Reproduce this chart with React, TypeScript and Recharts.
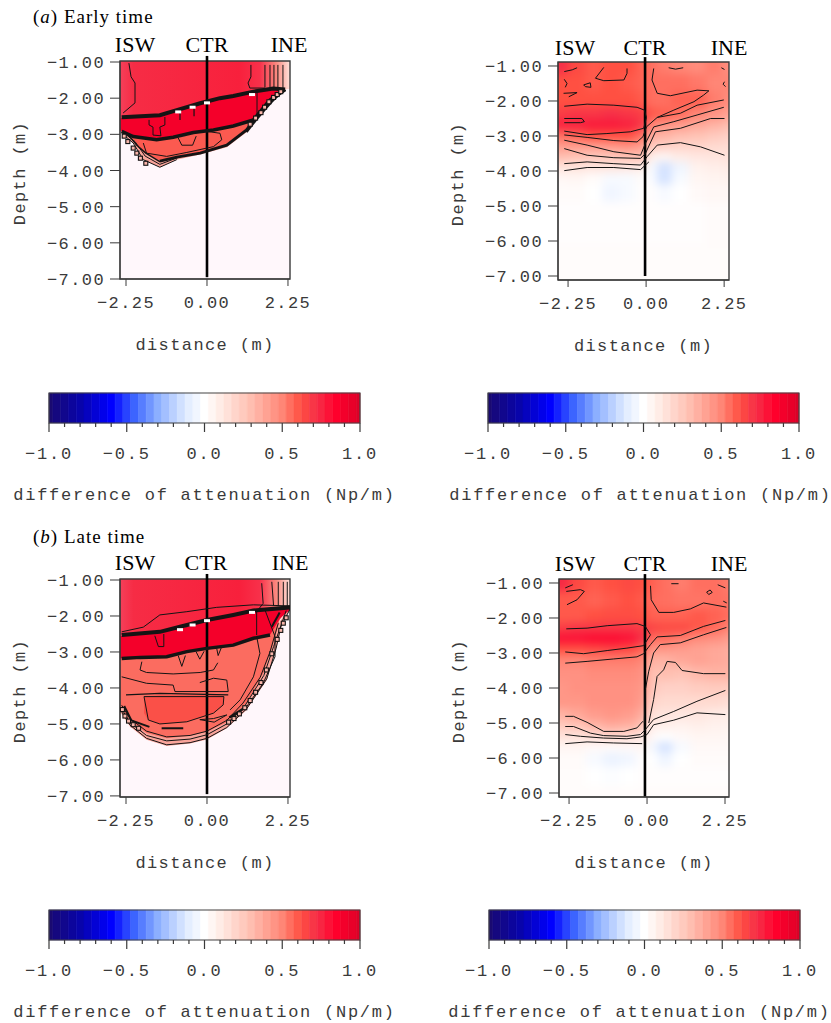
import React from 'react';
import { ComposedChart, Area, Scatter, XAxis, YAxis, ReferenceArea, ReferenceLine } from 'recharts';

type Pair = [number, number];
type Triple = [number, number, number];

const depthTicks = [-1, -2, -3, -4, -5, -6, -7];
const distanceTicks = [-2.25, 0, 2.25];
const barTicks = [-1, -0.9, -0.8, -0.7, -0.6, -0.5, -0.4, -0.3, -0.2, -0.1, 0, 0.1, 0.2, 0.3, 0.4, 0.5, 0.6, 0.7, 0.8, 0.9, 1];
const barMajor = [-1, -0.5, 0, 0.5, 1];
const barLevels = [-1, -0.95, -0.9, -0.85, -0.8, -0.75, -0.7, -0.65, -0.6, -0.55, -0.5, -0.45, -0.4, -0.35, -0.3, -0.25, -0.2, -0.15, -0.1, -0.05, 0, 0.05, 0.1, 0.15, 0.2, 0.25, 0.3, 0.35, 0.4, 0.45, 0.5, 0.55, 0.6, 0.65, 0.7, 0.75, 0.8, 0.85, 0.9, 0.95, 1];

const colorStops: [number, number[]][] = [
  [-1, [26, 10, 112]], [-0.8, [8, 4, 170]], [-0.6, [0, 0, 255]], [-0.45, [60, 100, 255]], [-0.3, [140, 175, 255]],
  [-0.12, [222, 234, 255]], [0, [255, 255, 255]], [0.1, [255, 236, 230]], [0.3, [255, 190, 176]], [0.5, [255, 134, 118]],
  [0.62, [255, 80, 66]], [0.72, [246, 48, 72]], [0.85, [255, 0, 44]], [1, [220, 0, 40]],
];

const heatColor = (v: number) => {
  for (let i = 1; i < colorStops.length; i++) {
    const [hi, c1] = colorStops[i];
    const [lo, c0] = colorStops[i - 1];
    if (v <= hi) {
      const t = (v - lo) / (hi - lo);
      return `rgb(${c0.map((c, k) => Math.round(c + (c1[k] - c) * t)).join(',')})`;
    }
  }
  return 'rgb(220,0,40)';
};

// gridded values for the two smooth right hand panels
const gridCols = [-2.45, -2.0, -1.5, -1.0, -0.5, -0.1, 0.15, 0.5, 1.0, 1.5, 2.0, 2.4];

const earthEarlyRows = [-1, -1.5, -2, -2.4, -2.7, -3, -3.3, -3.6, -3.9, -4.2, -4.6, -5.2, -7.1];
const earthEarly = [
  [0.72, 0.64, 0.6, 0.62, 0.62, 0.58, 0.55, 0.52, 0.5, 0.48, 0.52, 0.47],
  [0.62, 0.62, 0.6, 0.62, 0.6, 0.58, 0.55, 0.55, 0.55, 0.53, 0.5, 0.5],
  [0.62, 0.62, 0.62, 0.62, 0.62, 0.6, 0.55, 0.55, 0.58, 0.58, 0.52, 0.48],
  [0.68, 0.7, 0.7, 0.72, 0.7, 0.68, 0.6, 0.58, 0.55, 0.5, 0.45, 0.4],
  [0.76, 0.76, 0.78, 0.78, 0.76, 0.7, 0.5, 0.45, 0.42, 0.38, 0.34, 0.3],
  [0.55, 0.58, 0.62, 0.62, 0.62, 0.55, 0.36, 0.34, 0.3, 0.28, 0.25, 0.22],
  [0.42, 0.42, 0.42, 0.44, 0.46, 0.42, 0.25, 0.22, 0.2, 0.2, 0.18, 0.17],
  [0.3, 0.28, 0.26, 0.26, 0.28, 0.3, 0.08, 0.05, 0.1, 0.12, 0.13, 0.14],
  [0.14, 0.14, 0.13, 0.13, 0.12, 0.1, -0.03, -0.14, -0.06, 0.07, 0.09, 0.1],
  [0.04, 0.05, 0.02, -0.03, -0.03, 0.02, -0.02, -0.14, -0.03, 0.05, 0.06, 0.07],
  [0.02, 0.02, 0, -0.05, -0.03, 0.01, 0.01, -0.03, 0, 0.03, 0.04, 0.04],
  [0.01, 0.01, 0.01, 0.01, 0.01, 0.01, 0.01, 0.01, 0.01, 0.01, 0.02, 0.02],
  [0.015, 0.015, 0.015, 0.015, 0.015, 0.015, 0.015, 0.015, 0.015, 0.015, 0.015, 0.015],
];

const earthLateRows = [-1, -1.5, -2, -2.3, -2.6, -2.9, -3.2, -3.6, -4, -4.4, -4.8, -5.1, -5.4, -5.7, -6, -6.5, -7.1];
const earthLate = [
  [0.74, 0.64, 0.6, 0.62, 0.64, 0.62, 0.58, 0.55, 0.52, 0.55, 0.55, 0.52],
  [0.6, 0.6, 0.58, 0.6, 0.62, 0.6, 0.56, 0.55, 0.54, 0.54, 0.55, 0.54],
  [0.6, 0.6, 0.62, 0.63, 0.63, 0.62, 0.58, 0.58, 0.58, 0.6, 0.58, 0.55],
  [0.68, 0.7, 0.7, 0.7, 0.7, 0.68, 0.66, 0.64, 0.64, 0.6, 0.56, 0.5],
  [0.8, 0.8, 0.82, 0.82, 0.8, 0.72, 0.55, 0.55, 0.52, 0.48, 0.46, 0.42],
  [0.62, 0.62, 0.64, 0.66, 0.64, 0.58, 0.44, 0.44, 0.42, 0.4, 0.38, 0.36],
  [0.5, 0.5, 0.52, 0.52, 0.52, 0.5, 0.34, 0.34, 0.38, 0.4, 0.38, 0.36],
  [0.46, 0.46, 0.48, 0.48, 0.48, 0.46, 0.28, 0.3, 0.28, 0.32, 0.34, 0.34],
  [0.44, 0.46, 0.46, 0.46, 0.46, 0.44, 0.26, 0.22, 0.22, 0.24, 0.25, 0.24],
  [0.44, 0.44, 0.46, 0.46, 0.46, 0.42, 0.2, 0.18, 0.18, 0.18, 0.18, 0.16],
  [0.34, 0.38, 0.42, 0.44, 0.42, 0.36, 0.14, 0.13, 0.12, 0.12, 0.1, 0.09],
  [0.24, 0.26, 0.32, 0.36, 0.34, 0.26, 0.08, 0.08, 0.07, 0.08, 0.07, 0.06],
  [0.14, 0.14, 0.16, 0.18, 0.16, 0.12, 0.03, 0, 0.03, 0.05, 0.05, 0.04],
  [0.05, 0.05, 0.03, 0.02, 0.03, 0.05, -0.04, -0.14, -0.03, 0.03, 0.03, 0.03],
  [0.02, 0.02, -0.03, -0.07, -0.05, 0.01, 0, -0.06, 0, 0.02, 0.02, 0.02],
  [0.015, 0.015, 0, -0.01, 0, 0.01, 0.01, 0.01, 0.01, 0.01, 0.01, 0.01],
  [0.015, 0.015, 0.015, 0.015, 0.015, 0.015, 0.015, 0.015, 0.015, 0.015, 0.015, 0.015],
];

// early time, left: [x, lower, upper]
const earlyTopBand: Triple[] = [[-2.42, -2.55, -0.97], [-2.37, -2.53, -0.97], [-1.31, -2.47, -0.97], [-0.84, -2.33, -0.97], [-0.19, -2.14, -0.97], [0.36, -2.0, -0.97], [0.73, -1.94, -0.97], [1.29, -1.82, -0.97], [1.84, -1.73, -0.97], [2.17, -1.76, -0.97], [2.31, -1.74, -0.97]];
const earlyLens: Triple[] = [[-2.42, -2.88, -2.55], [-2.37, -2.92, -2.53], [-2.05, -3.06, -2.5], [-1.31, -3.15, -2.47], [-0.84, -3.1, -2.33], [-0.38, -2.95, -2.2], [-0.19, -2.93, -2.14], [0.18, -2.88, -2.04], [0.73, -2.77, -1.94], [1.29, -2.6, -1.82], [1.5, -2.42, -1.79], [1.75, -2.05, -1.74], [2.17, -1.76, -1.76]];
const earlyFringe: Triple[] = [[-2.42, -2.9, -2.88], [-2.37, -2.97, -2.92], [-2.05, -3.24, -3.06], [-1.77, -3.7, -3.11], [-1.31, -3.91, -3.15], [-0.84, -3.7, -3.1], [-0.19, -3.56, -2.93], [0.55, -3.36, -2.8], [1.1, -2.94, -2.66], [1.66, -2.21, -2.16], [2.17, -1.76, -1.76]];
const earlyCore: Triple[] = [[-2.37, -2.94, -2.92], [-2.05, -3.14, -3.06], [-1.77, -3.5, -3.11], [-1.31, -3.72, -3.15], [-0.84, -3.6, -3.1], [-0.19, -3.5, -2.93], [0.55, -3.28, -2.8], [1.1, -2.85, -2.66], [1.66, -2.13, -2.12]];
const earlyLines: [Pair[], number][] = [
  [[[-2.37, -2.53], [-1.31, -2.47], [-0.84, -2.33], [-0.19, -2.14], [0.36, -2.0], [0.73, -1.94], [1.29, -1.82], [1.84, -1.73], [2.17, -1.76]], 4],
  [[[-2.37, -2.92], [-2.05, -3.06], [-1.4, -3.15], [-0.94, -3.08], [-0.38, -2.95], [0.18, -2.88], [0.73, -2.77], [1.29, -2.6], [1.75, -2.05], [2.17, -1.76]], 3.5],
  [[[-1.31, -3.74], [-0.84, -3.63], [-0.19, -3.52], [0.55, -3.3], [1.1, -2.88], [1.66, -2.15], [2.17, -1.76]], 3],
  [[[-2.37, -2.97], [-2.05, -3.24], [-1.77, -3.7], [-1.31, -3.91], [-0.84, -3.7]], 1],
  [[[-2.3, -2.97], [-2.0, -3.2], [-1.72, -3.6], [-1.31, -3.83], [-0.8, -3.64]], 1],
  [[[-2.2, -3], [-1.95, -3.3], [-1.7, -3.52], [-1.3, -3.76]], 1.4],
  [[[1.1, -2.94], [1.35, -2.62], [1.62, -2.3], [1.8, -2.1], [2, -1.9]], 2.2],
  [[[-2.17, -1.03], [-2.11, -1.41], [-2, -1.58], [-2, -2.13], [-2.33, -2.41]], 1],
  [[[1.22, -1.08], [1.22, -1.41], [1.14, -1.58], [1.19, -1.72], [1.61, -1.72]], 1],
  [[[1.61, -1.08], [1.61, -1.7]], 1],
  [[[1.75, -1.08], [1.75, -1.7]], 1],
  [[[1.86, -1.08], [1.86, -1.7]], 1],
  [[[1.97, -1.08], [1.97, -1.7]], 1],
  [[[2.11, -1.08], [2.11, -1.72]], 1],
  [[[-1.77, -3.24], [-1.68, -3.52], [-1.12, -3.61], [-0.56, -3.5], [0.18, -3.34], [0.41, -3.15], [0.36, -2.97], [0, -2.92]], 1],
  [[[-1.61, -2.6], [-1.61, -2.74], [-1.5, -2.8], [-1.5, -3.02], [-1.28, -3.04], [-1.31, -2.8], [-1.17, -2.74], [-1.17, -2.52]], 1],
  [[[-0.75, -2.35], [-0.75, -2.6]], 1.2],
  [[[-0.36, -2.2], [-0.36, -2.5]], 1.2],
  [[[1.39, -1.85], [1.39, -2.5]], 1],
  [[[-0.8, -3.1], [-0.7, -3.3], [-0.4, -3.3], [-0.3, -3.05]], 1],
];
const earlyChips: Pair[] = [[-0.8, -2.38], [-0.4, -2.25], [0, -2.13], [1.25, -1.9]];
const earlyKnots: Pair[] = [[-2.3, -3.05], [-2.2, -3.2], [-2.05, -3.38], [-1.95, -3.52], [-1.85, -3.66], [-1.7, -3.8], [1.2, -2.72], [1.35, -2.55], [1.5, -2.4], [1.6, -2.25], [1.72, -2.1], [1.85, -1.98], [1.95, -1.9], [2.05, -1.82]];

// late time, left
const lateTopBand: Triple[] = [[-2.42, -2.54, -0.97], [-2.37, -2.53, -0.97], [-1.31, -2.44, -0.97], [-0.75, -2.3, -0.97], [0, -2.11, -0.97], [0.73, -1.97, -0.97], [1.29, -1.85, -0.97], [2.31, -1.76, -0.97]];
const lateLens: Triple[] = [[-2.42, -3.18, -2.54], [-1.9, -3.15, -2.5], [-1.12, -3.13, -2.42], [-0.56, -2.99, -2.3], [0, -2.9, -2.11], [0.73, -2.81, -1.97], [1.29, -2.62, -1.85], [1.75, -2.53, -1.78], [2.03, -2.06, -1.77], [2.31, -1.83, -1.76]];
const lateFringe: Triple[] = [[-2.42, -4.66, -3.18], [-2.14, -5.07, -3.16], [-1.68, -5.44, -3.15], [-1.12, -5.61, -3.13], [-0.47, -5.54, -2.99], [0, -5.43, -2.9], [0.55, -5.12, -2.82], [1.1, -4.61, -2.68], [1.66, -3.78, -2.55], [1.94, -2.85, -2.3], [2.12, -2.11, -2.0], [2.31, -1.83, -1.83]];
const lateBody: Triple[] = [[-2.42, -4.5, -3.18], [-2.14, -4.9, -3.16], [-1.68, -5.25, -3.15], [-1.12, -5.4, -3.13], [-0.47, -5.33, -2.99], [0, -5.22, -2.9], [0.55, -4.95, -2.82], [1.1, -4.42, -2.68], [1.56, -3.6, -2.55], [1.82, -2.85, -2.3], [2.02, -2.11, -2.0], [2.2, -1.86, -1.86]];
const lateCore: Triple[] = [[-1.75, -4.7, -4.24], [-1.63, -4.89, -4.22], [-1.31, -5, -4.2], [-0.56, -4.94, -4.2], [0.18, -4.7, -4.2], [0.45, -4.47, -4.22], [0.47, -4.24, -4.24]];
const lateLines: [Pair[], number][] = [
  [[[-2.37, -2.53], [-1.31, -2.44], [-0.75, -2.3], [0, -2.11], [0.73, -1.97], [1.29, -1.85], [2.31, -1.76]], 4],
  [[[-2.37, -3.18], [-1.86, -3.15], [-1.12, -3.13], [-0.56, -2.99], [0, -2.9], [0.73, -2.81], [1.29, -2.62], [1.75, -2.53]], 3.5],
  [[[-2.37, -2.44], [-1.77, -2.31], [-1.31, -1.97], [-0.56, -1.88], [0.27, -1.76], [1.29, -1.69], [2.31, -1.72]], 1],
  [[[-1.81, -3.27], [-1.86, -3.5], [-1.68, -3.57], [-0.94, -3.61], [-0.19, -3.57], [0.18, -3.5], [0.3, -3.3]], 1],
  [[[-2.37, -3.69], [-1.68, -3.87], [-0.94, -3.92], [-0.89, -4.1], [0.59, -4.1], [0.55, -3.78], [0.18, -3.73], [-0.2, -3.85]], 1],
  [[[-2.25, -4.19], [-1.31, -4.15], [0.59, -4.19]], 1.3],
  [[[-1.75, -4.24], [-1.63, -4.89], [-1.31, -5], [-0.56, -4.94], [0.18, -4.7], [0.45, -4.47], [0.47, -4.24], [-1.75, -4.24]], 1],
  [[[-1.26, -5.12], [-0.66, -5.12]], 2],
  [[[1.52, -1.09], [1.56, -1.65], [1.38, -1.88], [1.38, -2.53]], 1],
  [[[1.8, -1.05], [1.85, -1.72]], 1],
  [[[1.98, -1.05], [1.98, -1.72]], 1],
  [[[2.12, -1.05], [2.12, -1.72]], 1],
  [[[2.23, -1.05], [2.23, -1.72]], 1],
  [[[1.61, -1.83], [1.89, -2.57], [1.89, -3.13], [1.56, -3.87], [1.1, -4.52], [0.73, -4.8]], 1],
  [[[1.38, -2.57], [1.47, -3.04], [1.29, -3.69], [0.92, -4.33], [0.64, -4.61]], 1],
  [[[2.31, -1.8], [2.05, -2.3], [1.92, -2.9], [1.66, -3.75], [1.1, -4.58], [0.55, -5.1], [0, -5.4], [-0.47, -5.52], [-1.12, -5.58], [-1.68, -5.4], [-2.14, -5.03], [-2.37, -4.66]], 1],
  [[[2.2, -1.85], [1.85, -2.85], [1.58, -3.65], [1.05, -4.5], [0.55, -5], [0, -5.3], [-0.47, -5.42], [-1.12, -5.47], [-1.68, -5.32], [-2.14, -4.96], [-2.37, -4.58]], 1],
  [[[1.98, -2.2], [1.75, -3], [1.48, -3.7], [1, -4.42], [0.55, -4.9], [0, -5.2], [-0.47, -5.32], [-1.12, -5.36], [-1.68, -5.2], [-2.14, -4.85], [-2.37, -4.48]], 1],
  [[[-2.3, -4.5], [-2.1, -4.9], [-1.6, -5.08]], 2],
  [[[0.62, -4.82], [1.05, -4.55]], 2.4],
  [[[2.02, -1.9], [1.8, -2.3]], 2],
  [[[-1.45, -2.55], [-1.35, -2.85], [-1.2, -2.85], [-1.2, -2.5]], 1],
  [[[-0.8, -3.1], [-0.7, -3.4], [-0.6, -3.1]], 1],
  [[[-0.3, -3], [-0.2, -3.2], [-0.08, -2.98]], 1],
  [[[0.27, -2.9], [0.31, -3.1], [0.41, -2.85]], 1],
  [[[-0.2, -4.88], [0.18, -4.85], [0.55, -4.75], [0.2, -4.95], [-0.2, -4.88]], 1],
];
const lateChips: Pair[] = [[-0.75, -2.38], [-0.4, -2.25], [0, -2.13], [1.25, -1.9]];
const lateKnots: Pair[] = [[-2.35, -4.6], [-2.28, -4.78], [-2.18, -4.92], [-2.05, -5.02], [-1.9, -5.12], [0.6, -4.95], [0.75, -4.85], [0.9, -4.72], [1.05, -4.55], [1.2, -4.35], [1.35, -4.12], [1.5, -3.85], [1.65, -3.5], [1.8, -3.05], [1.95, -2.65], [2.05, -2.4], [2.12, -2.2], [2.2, -2.05]];

// right hand contours
const earthEarlyLines: Pair[][] = [
  [[-2.36, -1.16], [-2.13, -1.11], [-1.99, -1.05]],
  [[-1.22, -1.04], [-1.46, -1.35], [-1.22, -1.42], [-0.64, -1.4], [-0.55, -1.21], [-0.55, -1.07]],
  [[-1.8, -1.54], [-1.61, -1.48], [-1.59, -1.61], [-1.75, -1.59], [-1.8, -1.54]],
  [[-2.36, -1.38], [-2.28, -1.5], [-2.33, -1.61]],
  [[-2.38, -1.78], [-1.99, -1.76], [-2.23, -1.88]],
  [[-2.36, -2.15], [-1.7, -2.09], [-0.93, -2.12], [-0.26, -2.18], [-0.05, -2.26], [0.01, -2.47], [-0.07, -2.78], [-0.45, -2.88], [-1.13, -2.93], [-1.7, -2.96], [-2.36, -2.86]],
  [[-2.36, -2.5], [-1.85, -2.5], [-1.78, -2.59], [-1.89, -2.62], [-2.36, -2.62]],
  [[-2.36, -2.97], [-1.7, -3.04], [-0.93, -3.13], [-0.26, -3.17], [-0.09, -3.02], [0.01, -2.74], [0.32, -2.47], [0.99, -2.35], [1.47, -2.12], [2.24, -1.97]],
  [[-2.36, -3.12], [-1.7, -3.26], [-0.93, -3.45], [-0.16, -3.55], [-0.02, -3.21], [0.22, -2.74], [0.8, -2.59], [1.47, -2.4], [2.24, -2.18]],
  [[-2.36, -3.36], [-1.7, -3.55], [-0.93, -3.62], [-0.16, -3.64], [-0.02, -3.5], [0.27, -2.88], [0.99, -2.78], [1.86, -2.5], [2.26, -2.5]],
  [[-2.36, -3.79], [-1.7, -3.74], [-0.93, -3.79], [-0.16, -3.83], [0.03, -3.59], [0.32, -3.26], [0.99, -3.19], [1.57, -3.31], [2.26, -3.55]],
  [[-2.36, -3.99], [-1.7, -3.9], [-0.93, -3.9], [-0.16, -3.96], [0.08, -3.74]],
  [[0.22, -1.07], [0.17, -1.4], [0.32, -1.78], [0.7, -1.85], [1.47, -1.69], [1.81, -1.71], [1.66, -1.83], [1.38, -2.02], [0.8, -2.26], [0.32, -2.47]],
  [[0.65, -1.05], [0.85, -1.09], [1.07, -1.05]],
  [[2.17, -1.05], [2.26, -1.1]],
  [[2.26, -1.45], [2.22, -1.52], [2.29, -1.59]],
];

const earthLateLines: Pair[][] = [
  [[-2.36, -1.14], [-2.14, -1.05]],
  [[-2.33, -1.24], [-1.92, -1.19], [-1.81, -1.24], [-2.02, -1.48], [-2.31, -1.62]],
  [[-2.33, -2.31], [-1.73, -2.29], [-1.15, -2.22], [-0.29, -2.16], [-0.05, -2.24], [0.1, -2.48], [-0.1, -2.79], [-0.58, -2.86], [-1.15, -2.93], [-1.83, -3.02], [-2.36, -2.97]],
  [[-2.36, -3.29], [-1.73, -3.24], [-0.96, -3.17], [-0.29, -3.11], [-0.1, -3.02], [0.1, -2.76], [0.29, -2.54], [0.96, -2.5], [1.63, -2.24], [2.26, -2.07]],
  [[-0.08, -5.0], [-0.05, -4.05], [0.05, -3.52], [0.19, -3.0], [0.38, -2.76], [0.96, -2.71], [1.63, -2.48], [2.29, -2.27]],
  [[-2.36, -4.81], [-2.12, -4.81], [-1.73, -4.98], [-1.25, -5.24], [-0.67, -5.24], [-0.29, -5.14], [-0.12, -4.95]],
  [[0.05, -5.0], [0.19, -4.33], [0.29, -3.67], [0.48, -3.48], [0.58, -3.24], [0.82, -3.27], [1.01, -3.5], [1.63, -3.59], [2.26, -3.59]],
  [[-2.36, -5.1], [-2.12, -5.1], [-1.63, -5.29], [-1.25, -5.36], [-0.58, -5.38], [-0.19, -5.33], [-0.05, -5.19], [0.19, -4.9], [0.77, -4.67], [1.44, -4.38], [2.26, -4.07]],
  [[-2.36, -5.33], [-1.92, -5.38], [-1.25, -5.43], [-0.58, -5.45], [-0.19, -5.4], [0, -5.33], [0.19, -5.05], [0.77, -4.92], [1.44, -4.71], [2.26, -4.76]],
  [[-2.36, -5.59], [-1.73, -5.54], [-0.96, -5.57], [-0.14, -5.59]],
  [[0.1, -1.08], [0.12, -1.48], [0.34, -1.84], [0.77, -1.84], [1.25, -1.74], [1.63, -1.57], [2.29, -1.69]],
  [[0.7, -1.02], [0.91, -1.02]],
  [[2.04, -1.05], [2.26, -1.14]],
  [[1.72, -1.26], [1.82, -1.2], [1.88, -1.27], [1.78, -1.33], [1.72, -1.26]],
  [[2.2, -1.52], [2.3, -1.57]],
];

type PanelProps = {
  id: string;
  left: number;
  top: number;
  width: number;
  height: number;
  xDomain: number[];
  yDomain: number[];
  divider: Pair;
  grid?: number[][];
  rows?: number[];
  bands?: { points: Triple[]; fill: string }[];
  lines: [Pair[], number][];
  chips?: Pair[];
  knots?: Pair[];
};

const PAD_L = 115;
const PAD_T = 10;
const PAD_R = 45;
const PAD_B = 85;
const HEAT_PAD = 16;
const INK = '#3a3a3a';

const toXY = (pts: Pair[]) => pts.map(([x, y]) => ({ x, y }));
const chipShape = (p: any) => <rect x={p.cx - 3} y={p.cy - 1.5} width={6} height={3} fill="#fff" />;
const knotShape = (p: any) => <rect x={p.cx - 2} y={p.cy - 2} width={4} height={4} fill="#f9b5aa" stroke="#111" strokeWidth={1.1} />;
const noDot = () => <g />;
const clamp = (v: number, d: number[]) => Math.max(d[0], Math.min(d[1], v));

// cell edges halfway between centres, the outer cells run on past the plot
const edges = (c: number[], i: number) => [
  i === 0 ? c[0] + (c[0] - c[1]) * 6 : (c[i - 1] + c[i]) / 2,
  i === c.length - 1 ? c[i] + (c[i] - c[i - 1]) * 6 : (c[i] + c[i + 1]) / 2,
];

// smooth field: cells drawn by a bare chart that is blurred and cropped to the plot box
const HeatField = ({ left, top, width, height, xDomain, yDomain, grid, rows }: any) => {
  const dx = ((xDomain[1] - xDomain[0]) / width) * HEAT_PAD;
  const dy = ((yDomain[1] - yDomain[0]) / height) * HEAT_PAD;
  const xd = [xDomain[0] - dx, xDomain[1] + dx];
  const yd = [yDomain[0] - dy, yDomain[1] + dy];
  return (
    <div style={{ position: 'absolute', left, top, width, height, overflow: 'hidden' }}>
      <div style={{ position: 'absolute', left: -HEAT_PAD, top: -HEAT_PAD, filter: 'blur(4px)' }}>
        <ComposedChart
          width={width + HEAT_PAD * 2}
          height={height + HEAT_PAD * 2}
          data={[{ x: xd[0], y: yd[0] }, { x: xd[1], y: yd[1] }]}
          margin={{ top: 0, right: 0, left: 0, bottom: 0 }}
        >
          <XAxis dataKey="x" type="number" domain={xd} allowDataOverflow hide />
          <YAxis dataKey="y" type="number" domain={yd} allowDataOverflow hide />
          {grid.flatMap((row: number[], r: number) =>
            row.map((v: number, c: number) => {
              const [x1, x2] = edges(gridCols, c);
              const [y1, y2] = edges(rows, r);
              return (
                <ReferenceArea
                  key={`${r}-${c}`}
                  x1={clamp(x1, xd)}
                  x2={clamp(x2, xd)}
                  y1={clamp(y1, yd)}
                  y2={clamp(y2, yd)}
                  fill={heatColor(v)}
                  fillOpacity={1}
                  stroke={heatColor(v)}
                  strokeWidth={1}
                />
              );
            }),
          )}
        </ComposedChart>
      </div>
    </div>
  );
};

const Panel = ({ id, left, top, width, height, xDomain, yDomain, divider, grid, rows, bands, lines, chips, knots }: PanelProps) => (
  <>
    {grid && <HeatField left={left} top={top} width={width} height={height} xDomain={xDomain} yDomain={yDomain} grid={grid} rows={rows} />}
    <div style={{ position: 'absolute', left: left - PAD_L, top: top - PAD_T, fontFamily: '"Liberation Mono"', letterSpacing: 1.4 }}>
      <ComposedChart
        width={PAD_L + width + PAD_R}
        height={PAD_T + height + PAD_B}
        data={[{ x: xDomain[0], y: yDomain[0] }, { x: xDomain[1], y: yDomain[1] }]}
        margin={{ top: PAD_T, right: PAD_R, left: 0, bottom: 0 }}
      >
        <defs>
          <linearGradient id={`${id}-top`} x1="0" y1="0" x2="1" y2="0">
            <stop offset="0" stopColor="#f4405a" />
            <stop offset="0.08" stopColor="#f62c45" />
            <stop offset="0.7" stopColor="#f8203c" />
            <stop offset="0.82" stopColor="#f8304a" />
            <stop offset="0.92" stopColor="#fb8a80" />
            <stop offset="1" stopColor="#ffe4dd" />
          </linearGradient>
        </defs>
        <XAxis
          dataKey="x"
          type="number"
          domain={xDomain}
          ticks={distanceTicks}
          allowDataOverflow
          interval={0}
          height={PAD_B}
          tickSize={7}
          tickMargin={10}
          tickFormatter={(v: number) => v.toFixed(2).replace('-', '\u2212')}
          tick={{ fontSize: 17, fill: INK }}
          stroke={INK}
          label={{ value: 'distance (m)', position: 'insideBottom', offset: 14, fontSize: 17, fill: INK }}
        />
        <YAxis
          dataKey="y"
          type="number"
          domain={yDomain}
          ticks={depthTicks}
          allowDataOverflow
          interval={0}
          width={PAD_L}
          tickSize={10}
          tickMargin={5}
          tickFormatter={(v: number) => v.toFixed(2).replace('-', '\u2212')}
          tick={{ fontSize: 17, fill: INK }}
          stroke={INK}
          label={{ value: 'Depth (m)', angle: -90, position: 'insideLeft', offset: 14, dy: 3, fontSize: 17, fill: INK, style: { textAnchor: 'middle' } }}
        />
        {bands && <ReferenceArea x1={xDomain[0]} x2={xDomain[1]} y1={yDomain[0]} y2={yDomain[1]} fill="#fff7fb" fillOpacity={1} stroke="none" />}
        {bands?.map((b, i) => (
          <Area
            key={i}
            data={b.points.map(([x, lo, hi]) => ({ x, band: [lo, hi] }))}
            dataKey="band"
            type="linear"
            stroke="none"
            fill={b.fill.replace('TOP', `url(#${id}-top)`)}
            fillOpacity={1}
            dot={false}
            activeDot={false}
            isAnimationActive={false}
          />
        ))}
        {lines.map(([pts, w], i) => (
          <Scatter key={i} data={toXY(pts)} line={{ stroke: '#141414', strokeWidth: w }} shape={noDot} isAnimationActive={false} />
        ))}
        {knots && <Scatter data={toXY(knots)} shape={knotShape} isAnimationActive={false} />}
        {chips && <Scatter data={toXY(chips)} shape={chipShape} isAnimationActive={false} />}
        <ReferenceArea x1={xDomain[0]} x2={xDomain[1]} y1={yDomain[0]} y2={yDomain[1]} fill="none" stroke={INK} strokeWidth={1.4} />
        <ReferenceLine
          segment={[{ x: divider[0], y: yDomain[1] + 0.14 }, { x: divider[0], y: divider[1] }]}
          ifOverflow="visible"
          stroke="#000"
          strokeWidth={2.6}
        />
      </ComposedChart>
    </div>
  </>
);

const BarTick = ({ x, y, payload }: any) => {
  const major = barMajor.includes(payload.value);
  return (
    <g>
      <line x1={x} x2={x} y1={y - 8} y2={y - 8 + (major ? 9 : 4)} stroke={INK} strokeWidth={1.2} />
      {major && (
        <text x={x} y={y + 28} textAnchor="middle" fontSize={17} fill={INK}>
          {payload.value.toFixed(1).replace('-', '\u2212')}
        </text>
      )}
    </g>
  );
};

const ColorBar = ({ left, top, shift = 0 }: { left: number; top: number; shift?: number }) => (
  <div style={{ position: 'absolute', left: left - 42, top: top - 1, fontFamily: '"Liberation Mono"', letterSpacing: 1.75 }}>
    <ComposedChart
      width={311 + 84}
      height={115}
      data={[{ x: -1, y: 0 }, { x: 1, y: 1 }]}
      margin={{ top: 1, right: 42, left: 42, bottom: 0 }}
    >
      <XAxis
        dataKey="x"
        type="number"
        domain={[-1, 1]}
        ticks={barTicks}
        interval={0}
        height={84}
        tickLine={false}
        axisLine={false}
        tick={<BarTick />}
        label={{ value: 'difference of attenuation (Np/m)', position: 'insideBottom', offset: 7, dx: shift, fontSize: 17, fill: INK }}
      />
      <YAxis dataKey="y" type="number" domain={[0, 1]} hide />
      {barLevels.map((v, i) => (
        <ReferenceArea
          key={v}
          x1={i === 0 ? -1 : v - 0.025}
          x2={i === barLevels.length - 1 ? 1 : v + 0.025}
          y1={0}
          y2={1}
          fill={heatColor(v)}
          fillOpacity={1}
          stroke={heatColor(v)}
          strokeWidth={0.6}
        />
      ))}
      <ReferenceArea x1={-1} x2={1} y1={0} y2={1} fill="none" stroke="#444" strokeWidth={1.2} />
    </ComposedChart>
  </div>
);

const Head = ({ x, y, text }: { x: number; y: number; text: string }) => (
  <div style={{ position: 'absolute', left: x - 40, width: 80, top: y - 20, height: 25, lineHeight: '25px', textAlign: 'center', fontFamily: '"Liberation Serif"', fontSize: 22, color: '#000' }}>
    {text}
  </div>
);

const Title = ({ y, letter, text }: { y: number; letter: string; text: string }) => (
  <div style={{ position: 'absolute', left: 33, top: y - 18, lineHeight: '24px', fontFamily: '"Liberation Serif"', fontSize: 19, letterSpacing: 1, color: '#000' }}>
    (<i>{letter}</i>) {text}
  </div>
);

export default function App() {
  return (
    <div style={{ position: 'absolute', left: 0, top: 0, width: 831, height: 1023, overflow: 'hidden', background: '#fff' }}>
      <Title y={23} letter="a" text="Early time" />
      <Title y={543} letter="b" text="Late time" />

      {[[135, 207, 289, 52], [575, 645, 729, 55], [135, 206, 290, 570], [575, 645, 729, 571]].map(([a, b, c, y]) => (
        <React.Fragment key={y}>
          <Head x={a} y={y} text="ISW" />
          <Head x={b} y={y} text="CTR" />
          <Head x={c} y={y} text="INE" />
        </React.Fragment>
      ))}

      <Panel
        id="p1"
        left={120}
        top={61}
        width={170}
        height={218}
        xDomain={[-2.417, 2.306]}
        yDomain={[-7, -0.972]}
        divider={[0, -6.95]}
        bands={[
          { points: earlyFringe, fill: '#f9a49a' },
          { points: earlyCore, fill: '#fb5a50' },
          { points: earlyTopBand, fill: 'TOP' },
          { points: earlyLens, fill: '#f4002a' },
        ]}
        lines={earlyLines}
        chips={earlyChips}
        knots={earlyKnots}
      />
      <Panel
        id="p2"
        left={558}
        top={62}
        width={171}
        height={218}
        xDomain={[-2.54, 2.39]}
        yDomain={[-7.114, -0.886]}
        divider={[-0.03, -7.0]}
        grid={earthEarly}
        rows={earthEarlyRows}
        lines={earthEarlyLines.map((p) => [p, 1] as [Pair[], number])}
      />
      <Panel
        id="p3"
        left={120}
        top={579}
        width={170}
        height={218}
        xDomain={[-2.417, 2.306]}
        yDomain={[-7.03, -0.972]}
        divider={[0, -6.95]}
        bands={[
          { points: lateFringe, fill: '#f9a49a' },
          { points: lateBody, fill: '#fb6c60' },
          { points: lateCore, fill: '#fa5048' },
          { points: lateTopBand, fill: 'TOP' },
          { points: lateLens, fill: '#f4002a' },
        ]}
        lines={lateLines}
        chips={lateChips}
        knots={lateKnots}
      />
      <Panel
        id="p4"
        left={559}
        top={579}
        width={170}
        height={218}
        xDomain={[-2.54, 2.365]}
        yDomain={[-7.114, -0.886]}
        divider={[-0.06, -7.1]}
        grid={earthLate}
        rows={earthLateRows}
        lines={earthLateLines.map((p) => [p, 1] as [Pair[], number])}
      />

      <ColorBar left={49} top={393} />
      <ColorBar left={488} top={393} shift={-3} />
      <ColorBar left={49} top={910} />
      <ColorBar left={489} top={910} shift={-5} />
    </div>
  );
}
